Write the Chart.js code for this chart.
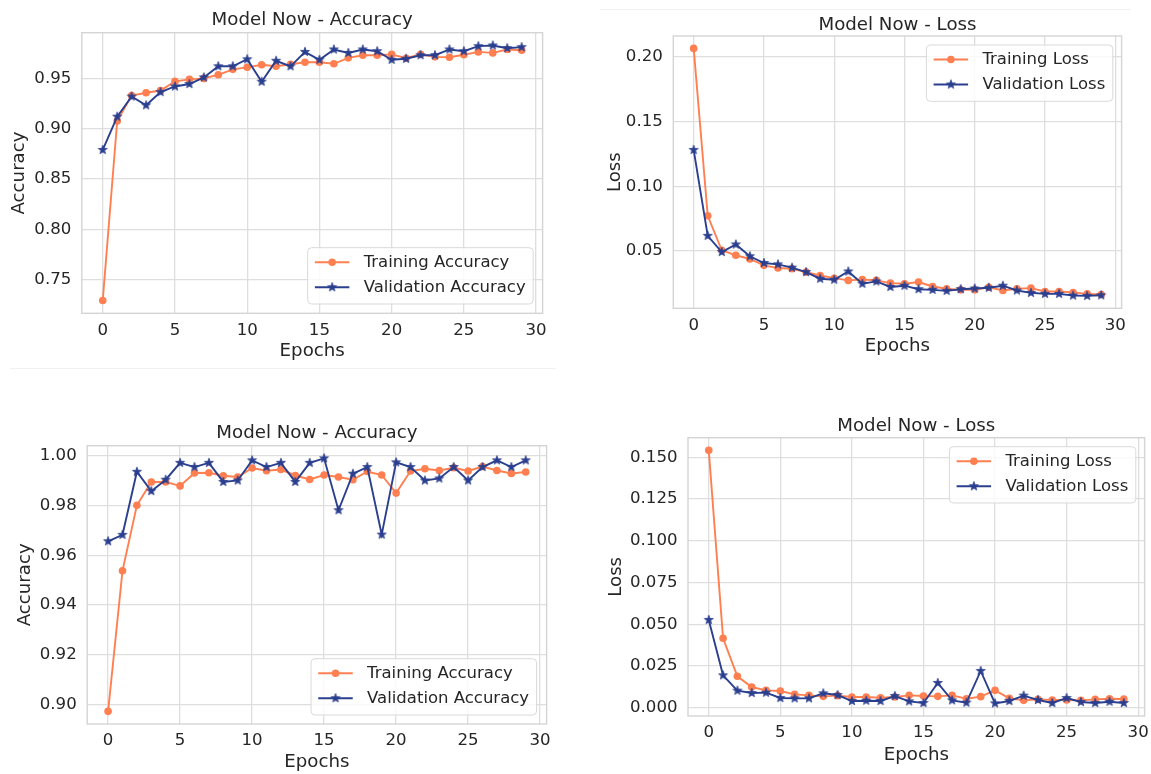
<!DOCTYPE html>
<html><head><meta charset="utf-8">
<script src="https://cdn.jsdelivr.net/npm/chart.js@4.4.1/dist/chart.umd.min.js"></script>
<style>
html,body{margin:0;padding:0;background:#fff;}
body{width:1151px;height:774px;position:relative;overflow:hidden;}
.box{position:absolute;}
.sep{position:absolute;height:1px;background:#f1f1f1;}
</style></head><body>
<div class="sep" style="left:10px;top:368px;width:546px"></div>
<div class="sep" style="left:600px;top:9px;width:531px"></div>
<div id="b1" class="box"><canvas id="c1"></canvas></div>
<div id="b2" class="box"><canvas id="c2"></canvas></div>
<div id="b3" class="box"><canvas id="c3"></canvas></div>
<div id="b4" class="box"><canvas id="c4"></canvas></div>
<script>
// ---------- data ----------
const epochs = [0,1,2,3,4,5,6,7,8,9,10,11,12,13,14,15,16,17,18,19,20,21,22,23,24,25,26,27,28,29];

const trainAcc1 = [0.7295,0.9077,0.9330,0.9357,0.9380,0.9470,0.9490,0.9500,0.9536,0.9590,0.9610,0.9635,0.9620,0.9640,0.9660,0.9660,0.9645,0.9704,0.9730,0.9730,0.9738,0.9700,0.9740,0.9714,0.9710,0.9735,0.9763,0.9753,0.9787,0.9780];
const valAcc1   = [0.8790,0.9120,0.9320,0.9233,0.9364,0.9420,0.9444,0.9510,0.9620,0.9620,0.9690,0.9467,0.9675,0.9620,0.9763,0.9685,0.9787,0.9753,0.9787,0.9770,0.9685,0.9695,0.9730,0.9730,0.9787,0.9770,0.9820,0.9827,0.9800,0.9810];

const trainLoss1 = [0.2064,0.0772,0.0505,0.0467,0.0438,0.0389,0.0368,0.0363,0.0337,0.0311,0.0290,0.0273,0.0280,0.0273,0.0252,0.0247,0.0260,0.0226,0.0208,0.0200,0.0200,0.0220,0.0195,0.0208,0.0213,0.0187,0.0187,0.0180,0.0169,0.0164];
const valLoss1   = [0.1280,0.0617,0.0492,0.0550,0.0459,0.0407,0.0397,0.0371,0.0337,0.0286,0.0278,0.0342,0.0247,0.0265,0.0222,0.0232,0.0205,0.0200,0.0192,0.0205,0.0210,0.0216,0.0232,0.0195,0.0177,0.0169,0.0169,0.0156,0.0153,0.0158];

const trainAcc2 = [0.8972,0.9538,0.9802,0.9896,0.9896,0.9880,0.9932,0.9933,0.9921,0.9916,0.9952,0.9941,0.9946,0.9922,0.9906,0.9924,0.9916,0.9905,0.9938,0.9924,0.9851,0.9940,0.9949,0.9942,0.9953,0.9940,0.9958,0.9942,0.9930,0.9936];
const valAcc2   = [0.9657,0.9683,0.9937,0.9859,0.9905,0.9973,0.9956,0.9973,0.9896,0.9902,0.9983,0.9956,0.9973,0.9896,0.9973,0.9991,0.9782,0.9929,0.9956,0.9684,0.9975,0.9956,0.9902,0.9910,0.9956,0.9902,0.9956,0.9983,0.9956,0.9983];

const trainLoss2 = [0.1542,0.0416,0.0188,0.0124,0.0104,0.0100,0.0080,0.0074,0.0068,0.0072,0.0064,0.0064,0.0060,0.0064,0.0074,0.0070,0.0068,0.0074,0.0054,0.0066,0.0104,0.0056,0.0044,0.0050,0.0046,0.0046,0.0044,0.0050,0.0054,0.0052];
const valLoss2   = [0.0526,0.0194,0.0102,0.0088,0.0090,0.0058,0.0056,0.0056,0.0086,0.0076,0.0040,0.0042,0.0040,0.0070,0.0038,0.0028,0.0148,0.0044,0.0030,0.0220,0.0026,0.0040,0.0072,0.0046,0.0028,0.0058,0.0034,0.0028,0.0036,0.0028];

const xTicks = [0,5,10,15,20,25,30];
const accTicks1 = [0.75,0.80,0.85,0.90,0.95];
const lossTicks1 = [0.05,0.10,0.15,0.20];
const accTicks2 = [0.90,0.92,0.94,0.96,0.98,1.00];
const lossTicks2 = [0.000,0.025,0.050,0.075,0.100,0.125,0.150];

// ---------- style ----------
const FONT = '"DejaVu Sans", sans-serif';
const TXT = '#262626';
const ORANGE = '#ff7f50';
const BLUE = '#2b3f8f';
const GRID = '#dedede';
const FRAME = '#d4d4d4';
const TITLE_SIZE = 18.2, LABEL_SIZE = 18.2, TICK_SIZE = 16.6, LEG_SIZE = 16.5;
Chart.defaults.font.family = FONT;
Chart.defaults.color = TXT;

function makeStar(color, R, r) {
  const c = document.createElement('canvas');
  const s = 2 * Math.ceil(R + 2);
  c.width = s; c.height = s;
  const g = c.getContext('2d');
  g.translate(s / 2, s / 2);
  g.beginPath();
  for (let i = 0; i < 10; i++) {
    const rad = i % 2 ? r : R;
    const ang = -Math.PI / 2 + i * Math.PI / 5;
    g.lineTo(rad * Math.cos(ang), rad * Math.sin(ang));
  }
  g.closePath();
  g.fillStyle = color; g.fill();
  g.strokeStyle = color; g.lineWidth = 0.8; g.stroke();
  return c;
}
const STAR = makeStar(BLUE, 4.7, 1.9);

const framePlugin = {
  id: 'frame',
  afterDatasetsDraw(chart) {
    const { ctx, chartArea: a } = chart;
    ctx.save();
    ctx.strokeStyle = FRAME; ctx.lineWidth = 1.4;
    ctx.strokeRect(a.left, a.top, a.right - a.left, a.bottom - a.top);
    ctx.restore();
  }
};

const mplLegend = {
  id: 'mplLegend',
  afterDraw(chart, args, o) {
    if (!o || !o.loc) return;
    const ctx = chart.ctx, a = chart.chartArea;
    const dss = chart.data.datasets;
    ctx.save();
    ctx.font = LEG_SIZE + 'px ' + FONT;
    let maxW = 0;
    dss.forEach(d => { maxW = Math.max(maxW, ctx.measureText(d.label).width); });
    const w = 7.2 + 34.5 + 14.3 + maxW + 7.5;
    const h = 56.3;
    const x = a.right - o.dx - w;
    const y = o.loc === 'lower right' ? a.bottom - o.dy - h : a.top + o.dy;
    ctx.beginPath();
    ctx.roundRect(x, y, w, h, 4);
    ctx.fillStyle = 'rgba(255,255,255,0.8)'; ctx.fill();
    ctx.strokeStyle = '#d9d9d9'; ctx.lineWidth = 1; ctx.stroke();
    dss.forEach((d, i) => {
      const ry = y + 14.5 + i * 25;
      ctx.beginPath();
      ctx.moveTo(x + 7.2, ry); ctx.lineTo(x + 41.7, ry);
      ctx.strokeStyle = d.borderColor; ctx.lineWidth = d.borderWidth; ctx.stroke();
      const mx = x + 24.5;
      if (d.pointStyle === 'circle') {
        ctx.beginPath(); ctx.arc(mx, ry, d.pointRadius, 0, Math.PI * 2);
        ctx.fillStyle = d.pointBackgroundColor; ctx.fill();
      } else {
        ctx.drawImage(d.pointStyle, mx - d.pointStyle.width / 2, ry - d.pointStyle.height / 2);
      }
      ctx.fillStyle = TXT; ctx.textBaseline = 'middle'; ctx.textAlign = 'left';
      ctx.fillText(d.label, x + 56, ry + 0.5);
    });
    ctx.restore();
  }
};

function autoRange(arrs) {
  let mn = Infinity, mx = -Infinity;
  arrs.forEach(a => a.forEach(v => { mn = Math.min(mn, v); mx = Math.max(mx, v); }));
  const m = 0.05 * (mx - mn);
  return [mn - m, mx + m];
}

function makePanel(canvasId, boxId, g, spec) {
  const lhT = TITLE_SIZE * 1.2, lhL = LABEL_SIZE * 1.2;
  const cTop = Math.floor(g.titleY - lhT / 2 - 2);
  const titlePadTop = g.titleY - lhT / 2 - cTop;
  const titlePadBottom = g.T - g.titleY - lhT / 2;
  const cLeft = Math.floor(g.yTitleX - lhL / 2 - 1);
  const yTitlePad = g.yTitleX - lhL / 2 - cLeft;
  const yWidth = g.L - cLeft;
  const cBottom = Math.ceil(g.epochsY + lhL / 2 + 1);
  const xTitlePad = cBottom - g.epochsY - lhL / 2;
  const xHeight = cBottom - g.B;
  const cRight = Math.min(1151, Math.ceil(g.R + 4));
  const padRight = cRight - g.R;
  const box = document.getElementById(boxId);
  box.style.left = cLeft + 'px'; box.style.top = cTop + 'px';
  box.style.width = (cRight - cLeft) + 'px'; box.style.height = (cBottom - cTop) + 'px';

  const [ymin, ymax] = autoRange([spec.train, spec.val]);
  const xm = 0.05 * (epochs[epochs.length - 1] - epochs[0]);

  new Chart(document.getElementById(canvasId), {
    type: 'line',
    data: {
      datasets: [
        { label: spec.trainLabel, data: epochs.map((e, i) => ({ x: e, y: spec.train[i] })),
          borderColor: ORANGE, backgroundColor: ORANGE, borderWidth: 1.9, tension: 0,
          pointStyle: 'circle', pointRadius: 3.8, pointBackgroundColor: ORANGE, pointBorderColor: ORANGE,
          pointBorderWidth: 0, order: 1 },
        { label: spec.valLabel, data: epochs.map((e, i) => ({ x: e, y: spec.val[i] })),
          borderColor: BLUE, backgroundColor: BLUE, borderWidth: 1.9, tension: 0,
          pointStyle: STAR, pointRadius: 4.5, order: 0 }
      ]
    },
    options: {
      responsive: true, maintainAspectRatio: false, animation: false, devicePixelRatio: 1,
      layout: { padding: { left: 0, top: 0, right: padRight, bottom: 0 } },
      plugins: {
        legend: { display: false },
        tooltip: { enabled: false },
        title: { display: true, text: spec.title, fullSize: false, color: TXT,
          font: { family: FONT, size: TITLE_SIZE, weight: 'normal' },
          padding: { top: titlePadTop, bottom: titlePadBottom } },
        mplLegend: { loc: spec.loc, dx: g.ldx, dy: g.ldy }
      },
      scales: {
        x: {
          type: 'linear', min: epochs[0] - xm, max: epochs[epochs.length - 1] + xm,
          afterBuildTicks: s => { s.ticks = xTicks.map(v => ({ value: v })); },
          afterFit: s => { s.height = xHeight; s.paddingLeft = 0; s.paddingRight = 0; },
          grid: { color: GRID, lineWidth: 1.3, drawTicks: false },
          border: { display: false },
          ticks: { color: TXT, font: { family: FONT, size: TICK_SIZE }, padding: 7,
            maxRotation: 0, autoSkip: false, callback: v => String(v) },
          title: { display: true, text: 'Epochs', color: TXT, font: { family: FONT, size: LABEL_SIZE },
            padding: { top: 0, bottom: xTitlePad } }
        },
        y: {
          type: 'linear', min: ymin, max: ymax,
          afterBuildTicks: s => { s.ticks = spec.yTicks.map(v => ({ value: v })); },
          afterFit: s => { s.width = yWidth; s.paddingTop = 0; s.paddingBottom = 0; },
          grid: { color: GRID, lineWidth: 1.3, drawTicks: false },
          border: { display: false },
          ticks: { color: TXT, font: { family: FONT, size: TICK_SIZE }, padding: 10.5,
            autoSkip: false, callback: v => Number(v).toFixed(spec.dec) },
          title: { display: true, text: spec.yLabel, color: TXT, font: { family: FONT, size: LABEL_SIZE },
            padding: { top: yTitlePad, bottom: 0 } }
        }
      }
    },
    plugins: [framePlugin, mplLegend]
  });
}

makePanel('c1', 'b1',
  { L: 81.8, T: 32.7, R: 544.9, B: 313.3, titleY: 20, yTitleX: 19.7, epochsY: 351.7, ldx: 9.4, ldy: 9.3 },
  { title: 'Model Now - Accuracy', yLabel: 'Accuracy', train: trainAcc1, val: valAcc1,
    trainLabel: 'Training Accuracy', valLabel: 'Validation Accuracy', yTicks: accTicks1, dec: 2, loc: 'lower right' });

makePanel('c2', 'b2',
  { L: 673.3, T: 36, R: 1123.2, B: 308.3, titleY: 25, yTitleX: 614.8, epochsY: 346, ldx: 8.8, ldy: 9 },
  { title: 'Model Now - Loss', yLabel: 'Loss', train: trainLoss1, val: valLoss1,
    trainLabel: 'Training Loss', valLabel: 'Validation Loss', yTicks: lossTicks1, dec: 2, loc: 'upper right' });

makePanel('c3', 'b3',
  { L: 87.2, T: 445.7, R: 548.5, B: 724, titleY: 433.3, yTitleX: 25.1, epochsY: 762.7, ldx: 10, ldy: 9 },
  { title: 'Model Now - Accuracy', yLabel: 'Accuracy', train: trainAcc2, val: valAcc2,
    trainLabel: 'Training Accuracy', valLabel: 'Validation Accuracy', yTicks: accTicks2, dec: 2, loc: 'lower right' });

makePanel('c4', 'b4',
  { L: 688, T: 437.7, R: 1148.1, B: 716, titleY: 426, yTitleX: 616.6, epochsY: 755, ldx: 8.8, ldy: 9 },
  { title: 'Model Now - Loss', yLabel: 'Loss', train: trainLoss2, val: valLoss2,
    trainLabel: 'Training Loss', valLabel: 'Validation Loss', yTicks: lossTicks2, dec: 3, loc: 'upper right' });
</script>
</body></html>
